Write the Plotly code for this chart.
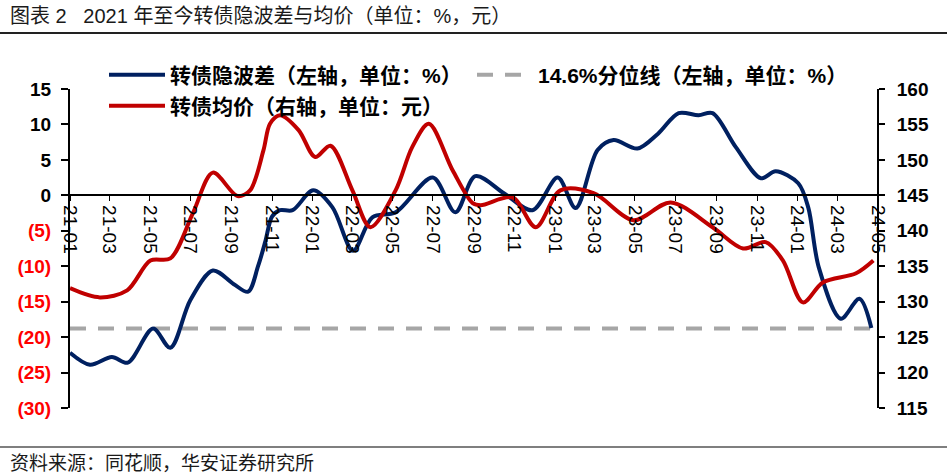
import plotly.graph_objects as go

# ---------------- data ----------------
iv_dates = ["2021-01-01", "2021-01-31", "2021-03-05", "2021-03-29", "2021-05-06", "2021-06-01",
            "2021-07-01", "2021-08-04", "2021-09-04", "2021-09-26", "2021-10-11", "2021-10-22",
            "2021-11-01", "2021-11-13", "2021-12-02", "2022-01-02", "2022-01-31", "2022-03-03",
            "2022-04-01", "2022-05-06", "2022-07-01", "2022-08-04", "2022-09-03", "2022-10-16",
            "2022-11-28", "2023-01-05", "2023-02-01", "2023-03-06", "2023-03-30", "2023-05-05",
            "2023-06-05", "2023-07-06", "2023-08-05", "2023-08-26", "2023-09-30", "2023-11-07",
            "2023-11-29", "2024-01-02", "2024-01-17", "2024-02-02", "2024-03-06", "2024-04-03",
            "2024-04-21"]
iv_values = [-22.2, -23.9, -22.8, -23.6, -18.8, -21.5,
             -14.8, -10.6, -12.5, -13.6, -10.0, -6.5,
             -3.0, -2.1, -2.1, 0.7, -1.7, -7.8,
             -3.1, -2.4, 2.5, -2.4, 2.7, 0.3,
             -2.1, 2.5, -1.8, 6.4, 7.8, 6.6,
             8.7, 11.6, 11.3, 11.6, 6.8, 2.4,
             3.4, 1.7, -1.7, -10.2, -17.4, -14.6,
             -18.7]

price_dates = ["2021-01-01", "2021-02-15", "2021-03-28", "2021-05-02", "2021-06-01", "2021-07-05",
               "2021-08-04", "2021-09-10", "2021-09-29", "2021-10-19", "2021-10-29", "2021-11-13",
               "2021-12-11", "2022-01-05", "2022-01-28", "2022-03-02", "2022-03-29", "2022-05-06",
               "2022-05-31", "2022-06-25", "2022-07-31", "2022-08-30", "2022-09-11", "2022-10-29",
               "2022-12-03", "2023-01-09", "2023-02-28", "2023-04-29", "2023-06-24", "2023-08-26",
               "2023-10-11", "2023-11-14", "2023-12-10", "2024-01-09", "2024-02-08", "2024-03-29",
               "2024-04-24"]
price_values = [131.9, 130.6, 131.6, 135.8, 136.1, 142.5,
                148.2, 144.9, 145.7, 151.3, 155.1, 156.3,
                154.2, 150.4, 152.0, 145.7, 140.5, 145.7,
                151.8, 155.1, 148.5, 143.9, 143.6, 144.7,
                140.5, 145.7, 145.3, 141.5, 144.0, 140.5,
                137.5, 138.4, 135.8, 129.9, 132.7, 134.0,
                135.8]

pct_dates = ["2021-01-01", "2024-04-21"]
pct_values = [-18.8, -18.8]

left_tick_vals = [15, 10, 5, 0, -5, -10, -15, -20, -25, -30]
left_tick_labels = ["15", "10", "5", "0", "(5)", "(10)", "(15)", "(20)", "(25)", "(30)"]
right_tick_vals = [115, 120, 125, 130, 135, 140, 145, 150, 155, 160]
right_tick_labels = ["115", "120", "125", "130", "135", "140", "145", "150", "155", "160"]

series_names = ["转债隐波差（左轴，单位：%）", "14.6%分位线（左轴，单位：%）", "转债均价（右轴，单位：元）"]
title_text = "图表 2   2021 年至今转债隐波差与均价（单位：%，元）"
source_text = "资料来源：同花顺，华安证券研究所"

# ---------------- layout helpers ----------------
W, H = 947, 476
L, R, T, B = 70, 878, 89, 408


def px_x(x):
    return (x - L) / (R - L)


def px_y(y):
    return (B - y) / (B - T)


LAT = "Liberation Sans, Arial, Noto Sans CJK SC"
CJK = "Liberation Sans, Noto Sans CJK SC"

left_ticktext = [
    lab if v >= 0 else "<span style='color:#FF0000'>" + lab + "</span>"
    for v, lab in zip(left_tick_vals, left_tick_labels)
]

fig = go.Figure()
fig.add_trace(go.Scatter(
    x=pct_dates, y=pct_values, mode="lines", name=series_names[1],
    line=dict(color="#A6A6A6", width=4, dash="16px,12px"), legend="legend2",
))
fig.add_trace(go.Scatter(
    x=price_dates, y=price_values, mode="lines", name=series_names[2], yaxis="y2",
    line=dict(color="#C00000", width=4, shape="spline", smoothing=0.9), legend="legend3",
))
fig.add_trace(go.Scatter(
    x=iv_dates, y=iv_values, mode="lines", name=series_names[0],
    line=dict(color="#002060", width=4, shape="spline", smoothing=0.9), legend="legend",
))

leg_common = dict(xanchor="left", yanchor="middle", bgcolor="rgba(0,0,0,0)",
                  font=dict(family=CJK, size=21, color="#000000", weight="bold"),
                  itemwidth=56, orientation="h")

fig.update_layout(
    width=W, height=H, template="none",
    paper_bgcolor="white", plot_bgcolor="white",
    margin=dict(l=L, r=W - R, t=T, b=H - B, pad=0),
    showlegend=True,
    legend=dict(x=px_x(104), y=px_y(75), **leg_common),
    legend2=dict(x=px_x(472), y=px_y(75), **leg_common),
    legend3=dict(x=px_x(104), y=px_y(106), **leg_common),
    xaxis=dict(
        type="date", range=["2021-01-01", "2024-05-01"],
        tick0="2021-01-01", dtick="M2", tickformat="%y-%m", tickangle=90,
        anchor="free", position=30 / 45,
        showline=True, linecolor="#000000", linewidth=2,
        ticks="outside", ticklen=5, tickwidth=1, tickcolor="#000000",
        showgrid=False, zeroline=False,
        tickfont=dict(family=LAT, size=19, color="#000000"),
    ),
    yaxis=dict(
        range=[-30, 15], tickvals=left_tick_vals, ticktext=left_ticktext,
        showline=True, linecolor="#000000", linewidth=2,
        ticks="outside", ticklen=7, tickwidth=2, tickcolor="#000000",
        showgrid=False, zeroline=False, automargin=False,
        tickfont=dict(family=LAT, size=19, color="#000000", weight="bold"),
        ticklabelstandoff=6,
    ),
    yaxis2=dict(
        range=[115, 160], tickvals=right_tick_vals, ticktext=right_tick_labels,
        overlaying="y", side="right", anchor="free", position=1.0,
        showline=True, linecolor="#000000", linewidth=2,
        ticks="outside", ticklen=6, tickwidth=2, tickcolor="#000000",
        showgrid=False, zeroline=False, automargin=False,
        tickfont=dict(family=LAT, size=19, color="#000000", weight="bold"),
        ticklabelstandoff=8,
    ),
    annotations=[
        dict(text=title_text, xref="paper", yref="paper", x=px_x(8), y=px_y(16),
             xanchor="left", yanchor="middle", showarrow=False,
             font=dict(family=CJK, size=20, color="#1a1a1a")),
        dict(text=source_text, xref="paper", yref="paper", x=px_x(8), y=px_y(463),
             xanchor="left", yanchor="middle", showarrow=False,
             font=dict(family=CJK, size=19, color="#1a1a1a")),
    ],
    shapes=[
        dict(type="line", xref="paper", yref="paper", x0=px_x(0), x1=px_x(W),
             y0=px_y(33), y1=px_y(33), line=dict(color="#222222", width=2)),
        dict(type="line", xref="paper", yref="paper", x0=px_x(0), x1=px_x(W),
             y0=px_y(447), y1=px_y(447), line=dict(color="#555555", width=1.5)),
    ],
)

fig.write_html("out.html")
